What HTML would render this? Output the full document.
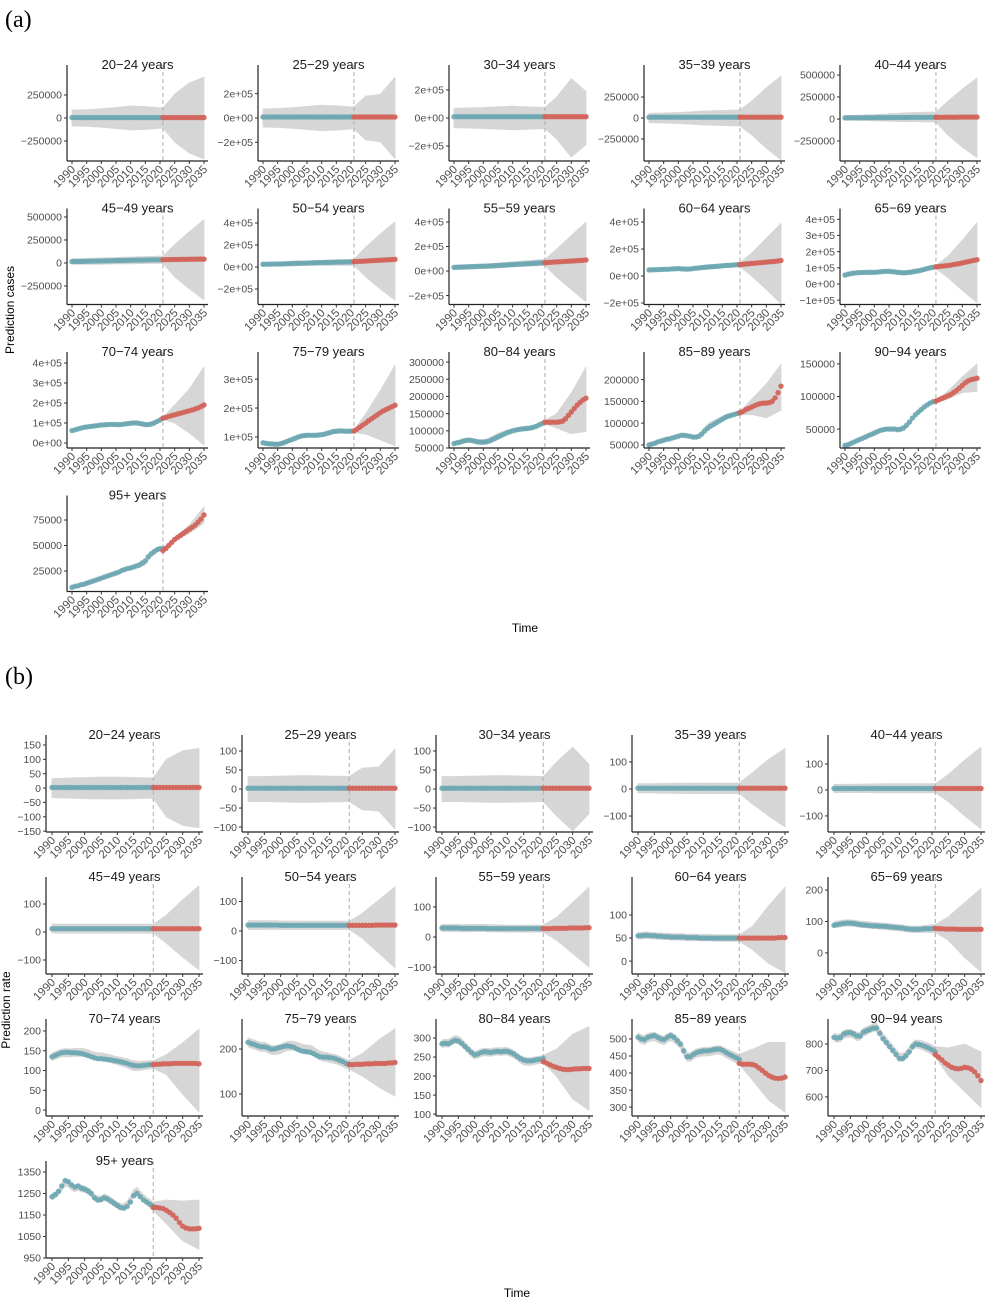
<!DOCTYPE html>
<html><head><meta charset="utf-8"><title>Prediction charts</title>
<style>
html,body{margin:0;padding:0;background:#fff;}
svg{display:block;font-family:"Liberation Sans",Arial,sans-serif;}
</style></head>
<body>
<svg id="chart" width="990" height="1299" viewBox="0 0 990 1299" xmlns="http://www.w3.org/2000/svg">
<text x="5" y="27" font-family="Liberation Serif,serif" font-size="24" fill="#000">(a)</text>
<text x="5" y="684" font-family="Liberation Serif,serif" font-size="24" fill="#000">(b)</text>
<text transform="translate(14,310) rotate(-90)" text-anchor="middle" font-size="12" fill="#000">Prediction cases</text>
<text x="525" y="632" text-anchor="middle" font-size="12" fill="#000">Time</text>
<text transform="translate(10,1010) rotate(-90)" text-anchor="middle" font-size="12" fill="#000">Prediction rate</text>
<text x="517" y="1297" text-anchor="middle" font-size="12" fill="#000">Time</text>
<g id="panels"></g>
</svg>
<script>
// shared
const bandYears = [1990,1995,2000,2005,2010,2015,2021,2025,2030,2035];
const xTickYears = [1990,1995,2000,2005,2010,2015,2020,2025,2030,2035];
// ---- (a) cases, values in thousands ----
const a01_obs = [5,5,5,5,5,5,5,5,5,5,5,5,5,5,5,5,5,5,5,5,5,5,5,5,5,5,5,5,5,5,5,5];
const a01_pred = [5,5,5,5,5,5,5,5,5,5,5,5,5,5,5];
const a01_hi = [87,90,100,115,130,125,109,260,380,445];
const a01_lo = [-87,-90,-100,-115,-130,-125,-109,-260,-380,-445];
const a02_obs = [8,8,8,8,8,8,8,8,8,8,8,8,8,8,8,8,8,8,8,8,8,8,8,8,8,8,8,8,8,8,8,8];
const a02_pred = [8,8,8,8,8,8,8,8,8,8,8,8,8,8,8];
const a02_hi = [74,78,85,95,105,100,90,180,195,335];
const a02_lo = [-74,-78,-85,-95,-105,-100,-90,-180,-195,-335];
const a03_obs = [9,9,9,9,9,9,9,9,9,9,9,9,9,9,9,9,9,9,9,9,9,9,9,9,9,9,9,9,9,9,9,9];
const a03_pred = [9,9,9,9,9,9,9,9,9,9,9,9,9,9,9];
const a03_hi = [70,72,75,80,85,80,75,150,280,190];
const a03_lo = [-70,-72,-75,-80,-85,-80,-75,-150,-280,-190];
const a04_obs = [10,10,10,10,10,10,10,10,10,10,10,10,10,10,10,10,10,10,10,10,10,10,10,10,10,10,10,10,10,10,10,10];
const a04_pred = [10,10,10,10,10,10,10,10,10,10,10,10,10,10,10];
const a04_hi = [55,60,65,75,85,90,95,200,360,500];
const a04_lo = [-55,-60,-65,-75,-85,-90,-95,-200,-360,-500];
const a05_obs = [13,13,13,14,14,14,14,15,15,15,15,16,16,16,16,17,17,17,17,18,18,18,18,19,19,19,19,20,20,20,20,20];
const a05_pred = [20,20,20,21,21,21,21,21,22,22,22,22,22,22,22];
const a05_hi = [40,45,50,60,70,75,80,200,340,466];
const a05_lo = [-10,-15,-20,-25,-30,-30,-35,-180,-320,-440];
const a06_obs = [15,16,17,17,18,19,19,20,21,22,22,23,24,24,25,26,27,27,28,29,30,30,31,32,32,33,33,34,34,35,35,36];
const a06_pred = [36,36.5,37,37.5,38,38.5,39,39.5,40,40.5,41,41.5,42,42,42];
const a06_hi = [45,50,55,60,65,70,75,200,340,470];
const a06_lo = [-15,-15,-15,-10,-10,-5,-5,-150,-280,-400];
const a07_obs = [25,25,26,26,27,28,28,29,30,31,32,33,34,35,35,36,37,38,39,40,40,41,42,42,43,44,45,45,46,46,47,48];
const a07_pred = [48,50,51,53,54,56,57,59,60,62,63,65,66,68,70];
const a07_hi = [40,45,50,55,60,65,70,180,300,410];
const a07_lo = [10,10,10,15,15,15,15,-90,-200,-300];
const a08_obs = [30,31,32,33,34,35,36,37,38,39,40,41,42,43,45,46,47,49,50,52,53,54,56,57,58,60,61,63,64,66,67,68];
const a08_pred = [68,70,71,73,74,76,77,79,80,82,83,85,86,88,90];
const a08_hi = [45,50,55,65,75,85,95,180,290,400];
const a08_lo = [15,15,20,25,35,40,45,-50,-150,-250];
const a09_obs = [45,46,47,48,49,50,50,51,53,54,55,53,52,51,52,55,58,60,63,65,67,69,70,72,74,76,78,79,80,82,84,85];
const a09_pred = [85,87,89,91,93,95,97,99,101,103,105,107,109,112,115];
const a09_hi = [55,58,62,65,75,90,100,170,280,390];
const a09_lo = [35,38,42,45,50,60,70,0,-100,-205];
const a10_obs = [55,60,64,67,69,70,71,71,72,72,72,73,75,77,78,78,76,74,72,70,69,70,72,75,78,81,85,90,95,100,103,106];
const a10_pred = [106,108,110,112,114,117,120,123,126,130,134,138,142,146,150];
const a10_hi = [62,78,80,85,80,95,115,170,270,380];
const a10_lo = [48,62,65,70,62,70,95,40,-40,-115];
const a11_obs = [62,66,70,74,78,80,82,84,86,88,90,91,92,93,93,92,92,93,95,97,99,100,100,98,95,92,92,95,100,108,115,124];
const a11_pred = [124,128,133,137,141,145,149,153,157,161,165,170,175,182,190];
const a11_hi = [68,85,95,97,105,100,130,190,270,380];
const a11_lo = [56,75,85,87,95,85,118,100,50,-10];
const a12_obs = [80,78,77,76,75,75,77,80,84,88,92,96,100,103,105,106,106,106,106,107,108,110,113,116,119,120,121,121,120,120,120,121];
const a12_pred = [121,127,134,141,148,156,163,170,177,184,190,195,200,205,210];
const a12_hi = [85,80,95,112,114,124,125,180,260,348];
const a12_lo = [75,70,85,100,102,112,115,110,90,70];
const a13_obs = [63,65,67,70,72,73,72,70,68,67,67,68,70,74,78,82,86,90,94,97,100,102,104,105,106,107,108,110,113,117,121,125];
const a13_pred = [125,125,125,125,125,126,128,135,145,155,165,175,183,190,195];
const a13_hi = [68,78,75,93,105,114,130,150,210,285];
const a13_lo = [58,66,65,83,95,102,120,108,92,98];
const a14_obs = [50,52,54,57,59,61,63,64,66,68,70,72,72,71,70,68,68,70,75,82,88,93,97,101,105,109,113,116,118,120,122,124];
const a14_pred = [124,127,131,134,137,140,143,145,146,146,147,150,158,170,185];
const a14_hi = [53,64,75,71,98,116,127,155,190,235];
const a14_lo = [47,60,69,65,92,108,119,120,112,130];
const a15_obs = [25,26,28,30,32,34,36,38,40,42,44,46,48,49,50,50,50,50,49,50,52,56,61,67,72,76,80,84,87,90,92,93];
const a15_pred = [93,95,97,99,101,103,106,109,113,117,121,124,126,127,128];
const a15_hi = [26,36,44,52,52,77,94,108,130,150];
const a15_lo = [24,34,40,48,48,73,90,96,106,108];
const a16_obs = [9,10,10.5,11.5,12,13,14,15,16,17,18,19,20,21,22,23,24,25.5,26.5,27.5,28,29,30,31,33,35,39,42,44,46,47,47];
const a16_pred = [45,47,50,53,56,58,60,62,64,66,68,70,73,76,80];
const a16_hi = [9.5,14,18.5,23.5,28.5,33,48,58,70,88];
const a16_lo = [8.5,12,17.5,22.5,27.5,31,45,54,62,72];
// ---- (b) rates ----
const b01_obs = [2,2,2,2,2,2,2,2,2,2,2,2,2,2,2,2,2,2,2,2,2,2,2,2,2,2,2,2,2,2,2,2];
const b01_pred = [2,2,2,2,2,2,2,2,2,2,2,2,2,2,2];
const b01_hi = [33,35,37,38,38,37,35,100,130,138];
const b01_lo = [-33,-35,-37,-38,-38,-37,-35,-100,-130,-138];
const b02_obs = [2,2,2,2,2,2,2,2,2,2,2,2,2,2,2,2,2,2,2,2,2,2,2,2,2,2,2,2,2,2,2,2];
const b02_pred = [2,2,2,2,2,2,2,2,2,2,2,2,2,2,2];
const b02_hi = [33,33,34,35,35,34,33,55,58,105];
const b02_lo = [-33,-33,-34,-35,-35,-34,-33,-55,-58,-105];
const b03_obs = [2,2,2,2,2,2,2,2,2,2,2,2,2,2,2,2,2,2,2,2,2,2,2,2,2,2,2,2,2,2,2,2];
const b03_pred = [2,2,2,2,2,2,2,2,2,2,2,2,2,2,2];
const b03_hi = [33,33,34,35,35,34,33,70,110,65];
const b03_lo = [-33,-33,-34,-35,-35,-34,-33,-70,-110,-65];
const b04_obs = [3,3,3,3,3,3,3,3,3,3,3,3,3,3,3,3,3,3,3,3,3,3,3,3,3,3,3,3,3,3,3,3];
const b04_pred = [3,3,3,3,3,3,3,3,3,3,3,3,3,3,3];
const b04_hi = [20,20,21,22,22,22,22,60,110,150];
const b04_lo = [-15,-15,-16,-17,-17,-17,-17,-55,-100,-140];
const b05_obs = [6,6,6,6,6,6,6,6,6,6,6,6,6,6,6,6,6,6,6,6,6,6,6,6,6,6,6,6,6,6,6,6];
const b05_pred = [6,6,6,6,6,6,6,6,6,6,6,6,6,6,6];
const b05_hi = [22,22,23,24,24,24,24,60,115,165];
const b05_lo = [-10,-10,-10,-11,-11,-11,-11,-45,-100,-150];
const b06_obs = [12,12,12,12,12,12,12,12,12,12,12,12,12,12,12,12,12,12,12,12,12,12,12,12,12,12,12,12,12,12,12,12];
const b06_pred = [12,12,12,12,12,12,12,12,12,12,12,12,12,12,12];
const b06_hi = [28,28,28,28,28,28,28,60,115,165];
const b06_lo = [-4,-4,-4,-4,-4,-4,-4,-40,-90,-135];
const b07_obs = [20,20,20,20,20,20,20,20,20,20,19,19,19,19,19,19,19,19,19,19,19,19,19,19,19,19,19,19,19,19,19,19];
const b07_pred = [19,19,19,19,19,19,19,19,20,20,20,20,20,20,20];
const b07_hi = [35,35,34,34,33,33,33,60,105,150];
const b07_lo = [5,5,5,5,5,5,5,-25,-75,-125];
const b08_obs = [30,30,30,30,30,30,29,29,29,29,29,29,29,29,28,28,28,28,28,28,28,28,28,28,28,28,28,28,28,28,28,28];
const b08_pred = [28,28,28,29,29,29,29,29,30,30,30,30,30,31,31];
const b08_hi = [42,42,42,41,40,40,40,65,115,165];
const b08_lo = [18,18,18,17,16,16,16,-10,-55,-100];
const b09_obs = [55,55,56,56,55,55,54,54,53,53,52,52,52,52,52,51,51,51,51,50,50,50,50,50,50,50,50,50,50,50,50,50];
const b09_pred = [50,50,50,50,50,50,50,50,50,50,50,50,51,51,51];
const b09_hi = [62,62,60,58,58,57,57,75,120,160];
const b09_lo = [48,48,46,44,44,43,43,25,-5,-25];
const b10_obs = [88,90,92,94,95,95,94,92,90,89,88,87,86,86,85,85,84,83,82,81,80,79,77,76,75,75,75,76,77,77,78,78];
const b10_pred = [78,77,77,76,76,76,76,75,75,75,75,75,75,75,75];
const b10_hi = [100,105,100,95,90,85,90,115,160,205];
const b10_lo = [80,85,80,75,70,65,65,40,-15,-60];
const b11_obs = [135,138,142,145,146,146,145,145,144,143,141,138,135,132,130,130,129,128,127,125,124,122,120,118,115,113,112,112,113,114,115,115];
const b11_pred = [115,116,116,117,117,117,118,118,118,118,118,118,118,118,117];
const b11_hi = [145,155,155,145,135,125,125,140,170,205];
const b11_lo = [125,135,135,125,115,100,105,90,40,-5];
const b12_obs = [215,212,210,207,205,205,203,200,200,202,204,206,207,206,204,200,197,195,194,193,190,186,183,182,182,181,180,178,175,172,168,166];
const b12_pred = [165,165,166,166,166,167,167,167,168,168,168,168,169,169,170];
const b12_hi = [225,215,210,215,205,190,175,190,220,245];
const b12_lo = [205,195,190,195,185,170,155,140,115,95];
const b13_obs = [285,286,285,290,294,292,286,278,270,262,256,258,262,264,263,262,264,265,264,265,265,262,258,252,246,242,240,240,241,243,244,246];
const b13_pred = [238,234,230,226,223,220,218,217,217,218,219,219,220,220,220];
const b13_hi = [295,305,265,272,275,250,255,270,310,330];
const b13_lo = [275,285,245,252,255,230,235,200,140,110];
const b14_obs = [505,500,498,505,508,510,505,500,498,505,510,505,495,485,465,448,448,455,460,463,465,465,466,468,470,470,466,460,455,450,445,440];
const b14_pred = [428,426,426,426,425,422,415,408,400,393,388,385,384,385,388];
const b14_hi = [518,520,520,460,475,480,455,470,490,490];
const b14_lo = [492,495,495,435,450,455,425,380,320,285];
const b15_obs = [825,822,825,838,842,843,838,830,830,845,850,855,860,860,840,820,805,790,775,760,745,745,755,770,790,800,798,795,790,785,778,770];
const b15_pred = [760,750,740,728,720,712,708,706,708,712,710,705,695,680,662];
const b15_hi = [840,855,865,840,765,815,790,785,800,770];
const b15_lo = [810,825,835,810,735,785,750,680,620,560];
const b16_obs = [1235,1245,1260,1285,1310,1305,1290,1280,1285,1275,1270,1262,1250,1230,1220,1222,1230,1225,1215,1205,1195,1185,1182,1190,1210,1240,1250,1235,1220,1210,1200,1190];
const b16_pred = [1185,1185,1183,1180,1172,1162,1150,1135,1115,1098,1090,1086,1085,1086,1088];
const b16_hi = [1250,1310,1285,1240,1210,1270,1210,1220,1215,1220];
const b16_lo = [1220,1280,1255,1210,1180,1240,1170,1110,1030,990];

const titles = ["20\u221224 years","25\u221229 years","30\u221234 years","35\u221239 years","40\u221244 years","45\u221249 years","50\u221254 years","55\u221259 years","60\u221264 years","65\u221269 years","70\u221274 years","75\u221279 years","80\u221284 years","85\u221289 years","90\u221294 years","95+ years"];

const aTicks = [[-250,0,250],[-200,0,200],[-200,0,200],[-250,0,250],[-250,0,250,500],[-250,0,250,500],[-200,0,200,400],[-200,0,200,400],[-200,0,200,400],[-100,0,100,200,300,400],[0,100,200,300,400],[100,200,300],[50,100,150,200,250,300],[50,100,150,200],[50,100,150],[25,50,75]];
const aTickLabels = [["\u2212250000","0","250000"],["\u22122e+05","0e+00","2e+05"],["\u22122e+05","0e+00","2e+05"],["\u2212250000","0","250000"],["\u2212250000","0","250000","500000"],["\u2212250000","0","250000","500000"],["\u22122e+05","0e+00","2e+05","4e+05"],["\u22122e+05","0e+00","2e+05","4e+05"],["\u22122e+05","0e+00","2e+05","4e+05"],["\u22121e+05","0e+00","1e+05","2e+05","3e+05","4e+05"],["0e+00","1e+05","2e+05","3e+05","4e+05"],["1e+05","2e+05","3e+05"],["50000","100000","150000","200000","250000","300000"],["50000","100000","150000","200000"],["50000","100000","150000"],["25000","50000","75000"]];
const aDomains = [[-467,489],[-354,370],[-307,321],[-512,536],[-477,523],[-451,505],[-341,459],[-273,445],[-211,441],[-127,417],[-25,415],[62,366],[50,306],[43,245],[21,156],[4.9,91.2]];
const bTicks = [[-150,-100,-50,0,50,100,150],[-100,-50,0,50,100],[-100,-50,0,50,100],[-100,0,100],[-100,0,100],[-100,0,100],[-100,0,100],[-100,0,100],[0,50,100],[0,100,200],[0,50,100,150,200],[100,200],[100,150,200,250,300],[300,350,400,450,500],[600,700,800],[950,1050,1150,1250,1350]];
const bDomains = [[-153,157],[-113,121],[-113,121],[-159,170],[-162,181],[-150,168],[-146,156],[-123,173],[-28,165],[-67,216],[-15,210],[51,249],[95,329],[274,535],[528,864],[950,1364]];

const aSeries = [[a01_obs,a01_pred,a01_hi,a01_lo],[a02_obs,a02_pred,a02_hi,a02_lo],[a03_obs,a03_pred,a03_hi,a03_lo],[a04_obs,a04_pred,a04_hi,a04_lo],[a05_obs,a05_pred,a05_hi,a05_lo],[a06_obs,a06_pred,a06_hi,a06_lo],[a07_obs,a07_pred,a07_hi,a07_lo],[a08_obs,a08_pred,a08_hi,a08_lo],[a09_obs,a09_pred,a09_hi,a09_lo],[a10_obs,a10_pred,a10_hi,a10_lo],[a11_obs,a11_pred,a11_hi,a11_lo],[a12_obs,a12_pred,a12_hi,a12_lo],[a13_obs,a13_pred,a13_hi,a13_lo],[a14_obs,a14_pred,a14_hi,a14_lo],[a15_obs,a15_pred,a15_hi,a15_lo],[a16_obs,a16_pred,a16_hi,a16_lo]];
const bSeries = [[b01_obs,b01_pred,b01_hi,b01_lo],[b02_obs,b02_pred,b02_hi,b02_lo],[b03_obs,b03_pred,b03_hi,b03_lo],[b04_obs,b04_pred,b04_hi,b04_lo],[b05_obs,b05_pred,b05_hi,b05_lo],[b06_obs,b06_pred,b06_hi,b06_lo],[b07_obs,b07_pred,b07_hi,b07_lo],[b08_obs,b08_pred,b08_hi,b08_lo],[b09_obs,b09_pred,b09_hi,b09_lo],[b10_obs,b10_pred,b10_hi,b10_lo],[b11_obs,b11_pred,b11_hi,b11_lo],[b12_obs,b12_pred,b12_hi,b12_lo],[b13_obs,b13_pred,b13_hi,b13_lo],[b14_obs,b14_pred,b14_hi,b14_lo],[b15_obs,b15_pred,b15_hi,b15_lo],[b16_obs,b16_pred,b16_hi,b16_lo]];

// layout
const LAYOUT = {
  a:{cols:[67,258,449,644,840], rows:[73,216.5,360,503.5], h:88, w:141, x0off:5, x1off:137},
  b:{cols:[46,242,436,632,828], rows:[743,885,1027,1169], h:89, w:157, x0off:6, x1off:153}
};
const NS = "http://www.w3.org/2000/svg";
const root = document.getElementById('panels');
function mk(tag, attrs, parent){
  const e = document.createElementNS(NS, tag);
  for (const k in attrs) e.setAttribute(k, attrs[k]);
  parent.appendChild(e);
  return e;
}
// linear lookup of a knot array at a given year
function atYear(arr, yr){
  for (let k = 0; k < bandYears.length - 1; k++){
    if (yr >= bandYears[k] && yr <= bandYears[k+1]){
      const t = (yr - bandYears[k]) / (bandYears[k+1] - bandYears[k]);
      return arr[k] + (arr[k+1] - arr[k]) * t;
    }
  }
  return arr[arr.length-1];
}
function drawPanel(part, idx, series, domain, ticks, tickLabels){
  const L = LAYOUT[part];
  const col = idx % 5, row = Math.floor(idx / 5);
  const ax = L.cols[col], top = L.rows[row], bot = top + L.h, right = ax + L.w;
  const xs = y => ax + L.x0off + (y - 1990) / 45 * (L.x1off - L.x0off);
  const ys = v => bot - (v - domain[0]) / (domain[1] - domain[0]) * L.h;
  const g = mk('g', {}, root);
  
  
  const [obs, pred, hi, lo] = series;
  // band: historic part follows observed series with knot-based half-width/offset
  const mid = hi.map((h,i)=>(h+lo[i])/2);
  const hw = hi.map((h,i)=>(h-lo[i])/2);
  const knotObs = bandYears.map(yr => yr <= 2021 ? obs[yr-1990] : 0);
  const off = mid.map((m,i)=> bandYears[i] <= 2021 ? m - knotObs[i] : 0);
  const upper = [], lower = [];
  for (let yr = 1990; yr <= 2021; yr++){
    const o = obs[yr-1990];
    const c = o + atYear(off, Math.min(yr,2021));
    const w = atYear(hw, yr);
    upper.push([xs(yr), ys(c + w)]); lower.push([xs(yr), ys(c - w)]);
  }
  for (let k = 0; k < bandYears.length; k++){
    if (bandYears[k] > 2021){ upper.push([xs(bandYears[k]), ys(hi[k])]); lower.push([xs(bandYears[k]), ys(lo[k])]); }
  }
  let d = '';
  upper.forEach((p,i)=>{ d += (i?'L':'M') + p[0].toFixed(1) + ' ' + p[1].toFixed(1) + ' '; });
  for (let i = lower.length-1; i >= 0; i--) d += 'L' + lower[i][0].toFixed(1) + ' ' + lower[i][1].toFixed(1) + ' ';
  const band = mk('path', {d: d+'Z', fill:'#d6d6d6', 'stroke':'#d6d6d6', 'stroke-width':0.8, 'stroke-linejoin':'round'}, g);
  
  
  // dashed 2021
  const dl = mk('line', {x1:xs(2021), x2:xs(2021), y1:top-8, y2:bot, stroke:'#b3b3b3', 'stroke-width':1.1, 'stroke-dasharray':'4 3'}, g);
  
  
  // points
  obs.forEach((v,i)=>{
    const c = mk('circle', {cx:xs(1990+i), cy:ys(v), r:2.7, fill:'#6aa6b1', 'fill-opacity':0.9}, g);
    
    
  });
  pred.forEach((v,i)=>{
    const c = mk('circle', {cx:xs(2021+i), cy:ys(v), r:2.7, fill:'#d3645b', 'fill-opacity':0.95}, g);
    
    
  });
  // axes
  const yl = mk('line', {x1:ax, x2:ax, y1:top-8, y2:bot, stroke:'#222', 'stroke-width':1.2}, g);
  
  
  const xl = mk('line', {x1:ax, x2:right, y1:bot, y2:bot, stroke:'#222', 'stroke-width':1.2}, g);
  
  
  ticks.forEach((t,i)=>{
    const y = ys(t);
    mk('line', {x1:ax-3, x2:ax, y1:y, y2:y, stroke:'#333', 'stroke-width':1}, g);
    const tx = mk('text', {x:ax-5, y:y+3.7, 'text-anchor':'end', 'font-size':10.5, fill:'#4d4d4d'}, g);
    tx.textContent = tickLabels ? tickLabels[i] : (t < 0 ? '\u2212' + Math.abs(t) : String(t));
    
    
  });
  xTickYears.forEach(yr=>{
    const x = xs(yr);
    mk('line', {x1:x, x2:x, y1:bot, y2:bot+3, stroke:'#333', 'stroke-width':1}, g);
    const tx = mk('text', {transform:'translate('+(x+4)+','+(bot+9)+') rotate(-45)', 'text-anchor':'end', 'font-size':11.5, fill:'#4d4d4d'}, g);
    tx.textContent = String(yr);
    
    
  });
  const tt = mk('text', {x:ax + L.w/2, y:top-4, 'text-anchor':'middle', 'font-size':13, fill:'#1a1a1a'}, g);
  tt.textContent = titles[idx];
  
  
}
for (let i = 0; i < 16; i++) drawPanel('a', i, aSeries[i], aDomains[i], aTicks[i], aTickLabels[i]);
for (let i = 0; i < 16; i++) drawPanel('b', i, bSeries[i], bDomains[i], bTicks[i], null);
</script>
</body></html>
